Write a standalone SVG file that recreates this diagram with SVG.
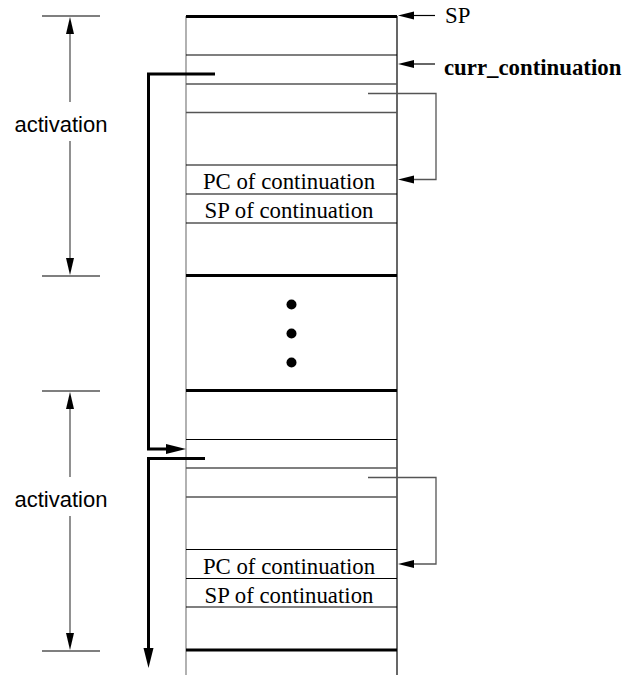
<svg xmlns="http://www.w3.org/2000/svg" width="625" height="675" viewBox="0 0 625 675">
<style>
.thin{stroke:#000;stroke-width:1.2;fill:none}
.gray{stroke:#555;stroke-width:1.3;fill:none}
.thick{stroke:#000;stroke-width:3;fill:none}
.head{fill:#000;stroke:none}
.ser{font-family:"Liberation Serif","Times New Roman",serif;font-size:22.8px;fill:#000}
.san{font-family:"Liberation Sans",Arial,sans-serif;font-size:22px;fill:#000}
</style>
<rect width="625" height="675" fill="#fff"/>
<g id="stack">
  <line x1="186" y1="16" x2="186" y2="675" stroke="#888" stroke-width="1.3"/>
  <line class="thin" x1="397" y1="16" x2="397" y2="675"/>
  <line class="thick" x1="186" y1="16.5" x2="397" y2="16.5"/>
  <line class="thin" x1="186" y1="55" x2="397" y2="55"/>
  <line class="gray" x1="186" y1="84" x2="397" y2="84"/>
  <line class="gray" x1="186" y1="112.5" x2="397" y2="112.5"/>
  <line class="thin" x1="186" y1="165" x2="397" y2="165"/>
  <line class="thin" x1="186" y1="194" x2="397" y2="194"/>
  <line class="thin" x1="186" y1="223" x2="397" y2="223"/>
  <line class="thick" x1="186" y1="275.5" x2="397" y2="275.5"/>
  <line class="thick" x1="186" y1="390.5" x2="397" y2="390.5"/>
  <line class="thin" x1="186" y1="439.5" x2="397" y2="439.5"/>
  <line class="gray" x1="186" y1="468" x2="397" y2="468"/>
  <line class="gray" x1="186" y1="497" x2="397" y2="497"/>
  <line class="thin" x1="186" y1="549.5" x2="397" y2="549.5"/>
  <line class="thin" x1="186" y1="578.5" x2="397" y2="578.5"/>
  <line class="thin" x1="186" y1="607" x2="397" y2="607"/>
  <line class="thick" x1="186" y1="650" x2="397" y2="650"/>
</g>
<g id="frame1-labels">
  <text class="ser" x="289" y="189" text-anchor="middle">PC of continuation</text>
  <text class="ser" x="289" y="218" text-anchor="middle">SP of continuation</text>
</g>
<g id="frame2-labels">
  <text class="ser" x="289" y="574" text-anchor="middle">PC of continuation</text>
  <text class="ser" x="289" y="603" text-anchor="middle">SP of continuation</text>
</g>
<g id="dots">
  <circle cx="291.5" cy="304.5" r="5" fill="#000"/>
  <circle cx="291.5" cy="333.5" r="5" fill="#000"/>
  <circle cx="291.5" cy="362.5" r="5" fill="#000"/>
</g>
<g id="sp-label">
  <text class="ser" x="445" y="23">SP</text>
</g>
<g id="curr-label">
  <text class="ser" x="444" y="75" font-weight="bold">curr_continuation</text>
</g>
<g id="activation1">
  <line class="gray" x1="42" y1="16" x2="100" y2="16"/>
  <line class="gray" x1="42" y1="276" x2="100" y2="276"/>
  <line class="gray" x1="70" y1="30" x2="70" y2="102"/>
  <line class="gray" x1="70" y1="141" x2="70" y2="262"/>
  <path class="head" d="M70,17 L66,34 L74,34 Z"/>
  <path class="head" d="M70,275 L66,258 L74,258 Z"/>
  <text class="san" x="61" y="132" text-anchor="middle">activation</text>
</g>
<g id="activation2">
  <line class="gray" x1="42" y1="391" x2="100" y2="391"/>
  <line class="gray" x1="42" y1="651" x2="100" y2="651"/>
  <line class="gray" x1="70" y1="405" x2="70" y2="477"/>
  <line class="gray" x1="70" y1="516" x2="70" y2="637"/>
  <path class="head" d="M70,392 L66,409 L74,409 Z"/>
  <path class="head" d="M70,650 L66,633 L74,633 Z"/>
  <text class="san" x="61" y="507" text-anchor="middle">activation</text>
</g>
<g id="connectors">
  <line class="thin" x1="414" y1="15.5" x2="435" y2="15.5"/>
  <path class="head" d="M398,15.5 L414,11.5 L414,19.5 Z"/>
  <line class="thin" x1="414" y1="64" x2="435" y2="64" stroke-width="1.6"/>
  <path class="head" d="M398,64 L414,60 L414,68 Z"/>
  <path class="gray" d="M368,93.5 H436 V179.5 H413"/>
  <path class="head" d="M398,179.5 L414,175.5 L414,183.5 Z"/>
  <path class="gray" d="M368,477.5 H436 V564 H413"/>
  <path class="head" d="M398,564 L414,560 L414,568 Z"/>
  <path class="thick" d="M215,74 H148.5 V449 H168"/>
  <path class="head" d="M186,449 L166,444 L166,454 Z"/>
  <path class="thick" d="M205,458.5 H148.5 V652"/>
  <path class="head" d="M148.5,668 L143.5,648 L153.5,648 Z"/>
</g>
</svg>
